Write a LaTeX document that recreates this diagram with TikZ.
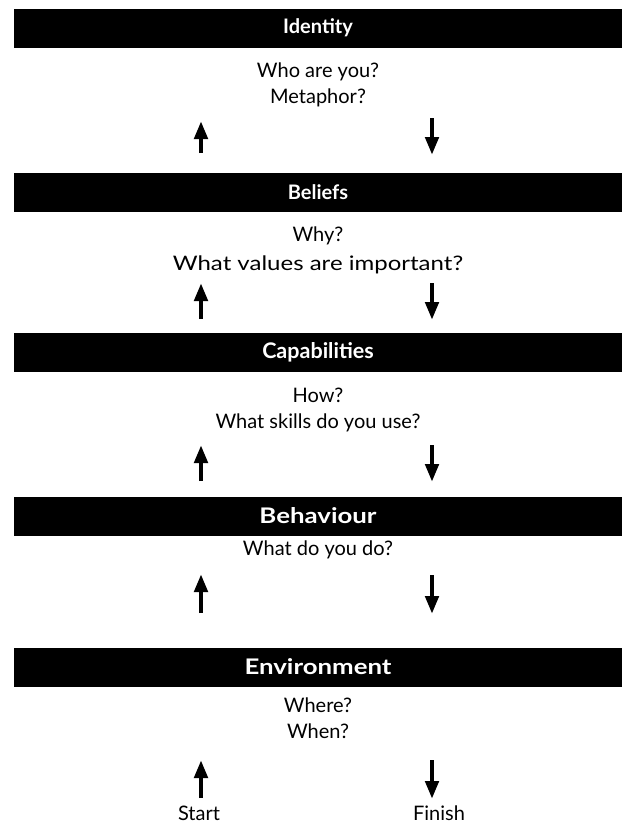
\documentclass[tikz,border=0pt]{standalone}
\usepackage{fontspec}
\setmainfont{Lato}
\newfontfamily\wideface[FakeStretch=1.2]{Lato}
\usetikzlibrary{arrows.meta}

\begin{document}
\begin{tikzpicture}[x=1pt, y=-1pt,
    levelStyle/.style={fill=black, text=white, minimum width=608pt, minimum height=39pt,
        inner sep=0pt, font=\fontsize{20}{24}\selectfont\bfseries},
    bigLevel/.style={levelStyle, font=\wideface\fontsize{21.5}{24}\selectfont\bfseries},
    askStyle/.style={align=center, inner sep=0pt, font=\fontsize{20}{26.5}\selectfont},
    endStyle/.style={inner sep=0pt, font=\fontsize{20}{24}\selectfont},
    moveStyle/.style={line width=4.5pt, -{Triangle[length=18pt, width=13pt]}}]
    \useasboundingbox (0, 0) rectangle (637, 831);

    \node[levelStyle](identity) at (318, 28) {Identity};
    \node[askStyle](ask1) at (318, 85) {Who are you?\\Metaphor?};
    \coordinate (up1a) at (201, 153); \coordinate (up1b) at (201, 121);
    \coordinate (dn1a) at (432, 118); \coordinate (dn1b) at (432, 155);

    \node[levelStyle](beliefs) at (318, 192) {Beliefs};
    \node[askStyle, font=\fontsize{20}{29}\selectfont](ask2) at (318, 250)
        {Why?\\{\wideface What values are important?}};
    \coordinate (up2a) at (201, 319); \coordinate (up2b) at (201, 283);
    \coordinate (dn2a) at (432, 283); \coordinate (dn2b) at (432, 320);

    \node[levelStyle, font=\fontsize{21.5}{24}\selectfont\bfseries](capabilities) at (318, 352) {Capabilities};
    \node[askStyle](ask3) at (318, 410) {How?\\What skills do you use?};
    \coordinate (up3a) at (201, 481); \coordinate (up3b) at (201, 445);
    \coordinate (dn3a) at (432, 445); \coordinate (dn3b) at (432, 482);

    \node[bigLevel](behaviour) at (318, 516) {Behaviour};
    \node[askStyle](ask4) at (318, 550) {What do you do?};
    \coordinate (up4a) at (201, 613); \coordinate (up4b) at (201, 574);
    \coordinate (dn4a) at (432, 575); \coordinate (dn4b) at (432, 614);

    \node[bigLevel](environment) at (318, 667) {Environment};
    \node[askStyle](ask5) at (318, 718) {Where?\\When?};
    \coordinate (up5a) at (201, 798); \coordinate (up5b) at (201, 760);
    \coordinate (dn5a) at (432, 760); \coordinate (dn5b) at (432, 799);

    \node[endStyle](start) at (199, 813) {Start};
    \node[endStyle](finish) at (439, 813) {Finish};

    \draw[moveStyle] (up1a) -- (up1b);
    \draw[moveStyle] (dn1a) -- (dn1b);
    \draw[moveStyle] (up2a) -- (up2b);
    \draw[moveStyle] (dn2a) -- (dn2b);
    \draw[moveStyle] (up3a) -- (up3b);
    \draw[moveStyle] (dn3a) -- (dn3b);
    \draw[moveStyle] (up4a) -- (up4b);
    \draw[moveStyle] (dn4a) -- (dn4b);
    \draw[moveStyle] (up5a) -- (up5b);
    \draw[moveStyle] (dn5a) -- (dn5b);
\end{tikzpicture}
\end{document}
